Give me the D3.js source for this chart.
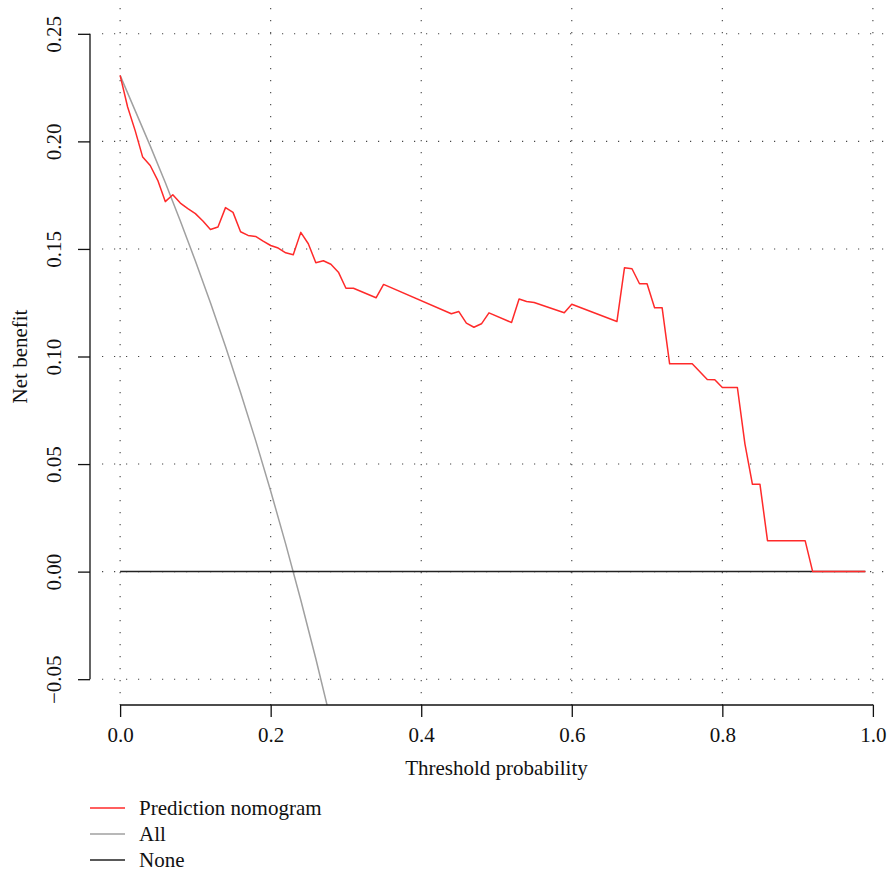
<!DOCTYPE html>
<html>
<head>
<meta charset="utf-8">
<script src="https://cdn.jsdelivr.net/npm/d3@7"></script>
<style>
  html, body { margin: 0; padding: 0; background: #fff; }
  svg text { font-family: 'Liberation Serif', 'DejaVu Serif', serif; fill: #111; }
</style>
</head>
<body>
<svg id="chart" width="888" height="873"></svg>
<script>
// threshold probabilities and net benefit of the nomogram (vertices)
var nomoThreshold = [0, 0.01, 0.02, 0.03, 0.04, 0.05, 0.06, 0.07, 0.08, 0.09, 0.10, 0.11, 0.12, 0.13, 0.14,
    0.15, 0.16, 0.17, 0.18, 0.19, 0.20, 0.21, 0.22, 0.23, 0.24, 0.25, 0.26, 0.27, 0.28, 0.29, 0.30, 0.31,
    0.34, 0.35, 0.44, 0.45, 0.46, 0.47, 0.48, 0.49, 0.52, 0.53, 0.54, 0.55, 0.59, 0.60, 0.66, 0.67, 0.68,
    0.69, 0.70, 0.71, 0.72, 0.73, 0.76, 0.78, 0.79, 0.80, 0.82, 0.83, 0.84, 0.85, 0.86, 0.91, 0.92, 0.99];
var nomoBenefit = [0.2307, 0.216, 0.205, 0.1927, 0.1888, 0.1819, 0.172, 0.1752, 0.1713, 0.1687, 0.1664, 0.163, 0.159, 0.1602, 0.1692,
    0.167, 0.158, 0.1563, 0.1558, 0.1536, 0.1516, 0.1504, 0.1482, 0.1473, 0.1577, 0.1524, 0.1436, 0.1445, 0.1429, 0.1392, 0.1317, 0.1317,
    0.1273, 0.1335, 0.1199, 0.1209, 0.1155, 0.1136, 0.1152, 0.1203, 0.1158, 0.1267, 0.1256, 0.1251, 0.1203, 0.1243, 0.1163, 0.1412, 0.1408,
    0.1338, 0.1338, 0.1227, 0.1227, 0.0966, 0.0966, 0.0893, 0.0892, 0.0856, 0.0856, 0.0594, 0.0406, 0.0406, 0.0144, 0.0144, 0, 0];

// treat-all curve
var allThreshold = [0, 0.02, 0.04, 0.06, 0.08, 0.10, 0.12, 0.14, 0.16, 0.18, 0.20, 0.22, 0.24, 0.26, 0.28];
var allBenefit = [0.2307, 0.2143, 0.1979, 0.1809, 0.1630, 0.1444, 0.125, 0.1047, 0.0833, 0.0610, 0.0375, 0.0128, -0.0132, -0.0405, -0.0694];

// treat-none curve
var noneThreshold = [0, 0.99];
var noneBenefit = [0, 0];

var xTicks = [0, 0.2, 0.4, 0.6, 0.8, 1.0];
var yTicks = [-0.05, 0, 0.05, 0.10, 0.15, 0.20, 0.25];

var legendNames = ['Prediction nomogram', 'All', 'None'];
var legendColors = ['#ff2a2a', '#a0a0a0', '#222'];

var svg = d3.select('#chart');
var fontSize = 21;

// plot region like R: data range padded by 4%
var plotLeft = 90, plotRight = 903, plotTop = 8, plotBottom = 705;
var x = d3.scaleLinear().domain([-0.04, 1.04]).range([plotLeft, plotRight]);
var y = d3.scaleLinear().domain([-0.062, 0.262]).range([plotBottom, plotTop]);

svg.append('clipPath').attr('id', 'plotclip')
    .append('rect').attr('x', plotLeft).attr('y', plotTop)
    .attr('width', plotRight - plotLeft).attr('height', plotBottom - plotTop);

// dotted grid
var grid = svg.append('g').attr('stroke', '#444').attr('stroke-width', 1.1).attr('stroke-dasharray', '1.2,10.8');
grid.selectAll('line.v').data(xTicks).enter().append('line')
    .attr('x1', function(d) { return x(d); }).attr('x2', function(d) { return x(d); })
    .attr('y1', plotTop).attr('y2', plotBottom);
grid.selectAll('line.h').data(yTicks).enter().append('line')
    .attr('y1', function(d) { return y(d); }).attr('y2', function(d) { return y(d); })
    .attr('x1', plotLeft + 12).attr('x2', plotRight);

var plot = svg.append('g').attr('clip-path', 'url(#plotclip)');
var line = d3.line().x(function(d) { return x(d[0]); }).y(function(d) { return y(d[1]); });

function pairs(xs, ys) {
    return xs.map(function(v, i) { return [v, ys[i]]; });
}

plot.append('path').datum(pairs(allThreshold, allBenefit))
    .attr('d', line).attr('fill', 'none').attr('stroke', legendColors[1]).attr('stroke-width', 1.5);
plot.append('path').datum(pairs(noneThreshold, noneBenefit))
    .attr('d', line).attr('fill', 'none').attr('stroke', legendColors[2]).attr('stroke-width', 1.5);
plot.append('path').datum(pairs(nomoThreshold, nomoBenefit))
    .attr('d', line).attr('fill', 'none').attr('stroke', legendColors[0]).attr('stroke-width', 1.5)
    .attr('stroke-linejoin', 'round');

// axes
var xAxis = svg.append('g').attr('transform', 'translate(0,' + plotBottom + ')')
    .call(d3.axisBottom(x).tickValues(xTicks).tickSize(12).tickPadding(10).tickFormat(d3.format('.1f')));
var yAxis = svg.append('g').attr('transform', 'translate(' + plotLeft + ',0)')
    .call(d3.axisLeft(y).tickValues(yTicks).tickSize(12).tickFormat(function(d) {
        return d < 0 ? '\u22120.05' : d3.format('.2f')(d);
    }));

[xAxis, yAxis].forEach(function(a) {
    a.select('.domain').attr('stroke', '#111').attr('stroke-width', 1.3);
    a.selectAll('.tick line').attr('stroke', '#111').attr('stroke-width', 1.3);
    a.selectAll('text').attr('font-family', "'Liberation Serif', serif").attr('font-size', fontSize).attr('fill', '#111');
});
// R draws axis line only between first and last tick
xAxis.select('.domain').attr('d', 'M' + x(0) + ',0H' + x(1));
yAxis.select('.domain').attr('d', 'M0,' + y(-0.05) + 'V' + y(0.25));

yAxis.selectAll('.tick text')
    .attr('x', null)
    .attr('text-anchor', 'middle')
    .attr('transform', 'translate(-36,0) rotate(-90)')
    .attr('dy', '0.35em');

svg.append('text').attr('x', (plotLeft + plotRight) / 2).attr('y', 775)
    .attr('text-anchor', 'middle').attr('font-size', fontSize).text('Threshold probability');
svg.append('text').attr('transform', 'translate(27,' + (plotTop + plotBottom) / 2 + ') rotate(-90)')
    .attr('text-anchor', 'middle').attr('font-size', fontSize).text('Net benefit');

// legend
var legend = svg.append('g').selectAll('g').data(legendNames).enter().append('g')
    .attr('transform', function(d, i) { return 'translate(90,' + (808 + i * 26) + ')'; });
legend.append('line').attr('x1', 0).attr('x2', 35).attr('y1', 0).attr('y2', 0)
    .attr('stroke', function(d, i) { return legendColors[i]; }).attr('stroke-width', 1.5);
legend.append('text').attr('x', 49).attr('y', 0).attr('dy', '0.32em')
    .attr('font-size', fontSize).text(function(d) { return d; });
</script>
</body>
</html>
